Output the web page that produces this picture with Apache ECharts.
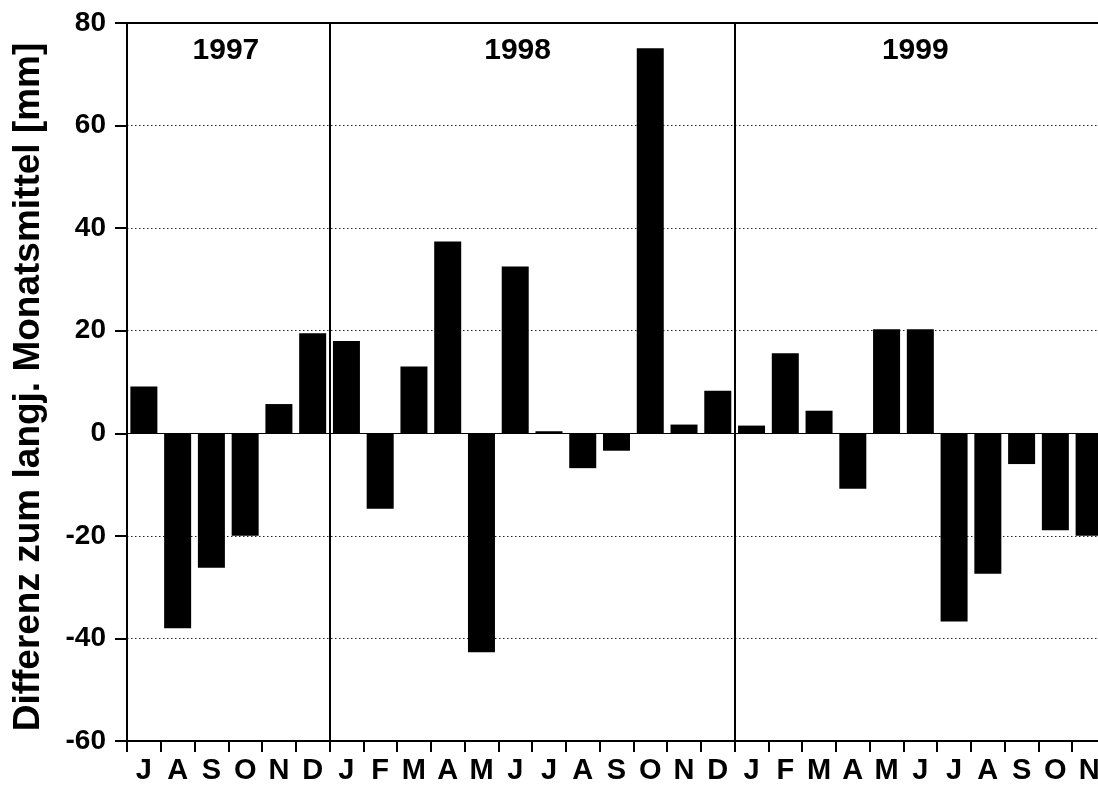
<!DOCTYPE html>
<html>
<head>
<meta charset="utf-8">
<title>Differenz zum langj. Monatsmittel</title>
<script src="https://cdn.jsdelivr.net/npm/echarts@6/dist/echarts.min.js"></script>
<style>
  html, body { margin: 0; padding: 0; background: #fff; overflow: hidden; }
  #chart { width: 1098px; height: 785px; }
</style>
</head>
<body>
<div id="chart"></div>
<script>
// Monthly precipitation departure from the long-term monthly mean, Jul 1997 – Nov 1999
const months = ['J','A','S','O','N','D',
                'J','F','M','A','M','J','J','A','S','O','N','D',
                'J','F','M','A','M','J','J','A','S','O','N'];
const values = [9.1, -38.0, -26.2, -20.0, 5.7, 19.5,
                18.0, -14.7, 13.0, 37.4, -42.7, 32.5, 0.4, -6.8, -3.4, 75.1, 1.7, 8.3,
                1.5, 15.6, 4.4, -10.8, 20.3, 20.3, -36.7, -27.4, -6.0, -18.9, -20.0];
// category index where each year begins
const yearStarts = [0, 6, 18];
const yearNames = ['1997', '1998', '1999'];
// horizontal placement of each year caption, in category units from the left edge
const yearCaptionPos = [2.93, 11.57, 23.35];
const yTicks = { min: -60, max: 80, step: 20 };
const yTitle = 'Differenz zum langj. Monatsmittel [mm]';

const FONT = '"Liberation Sans", Arial, Helvetica, sans-serif';
const chart = echarts.init(document.getElementById('chart'), null, { renderer: 'canvas' });

// the plot runs slightly past the right edge, so the last month is cut off
const option = {
  backgroundColor: '#ffffff',
  animation: false,
  grid: { left: 127, width: 979, top: 23, height: 718, containLabel: false, outerBoundsMode: 'none' },
  xAxis: [{
    type: 'category',
    data: months,
    position: 'bottom',
    boundaryGap: true,
    axisLine: { show: true, onZero: false, lineStyle: { color: '#000', width: 2 } },
    axisTick: { show: true, alignWithLabel: false, interval: 0, length: 11, lineStyle: { color: '#000', width: 2 } },
    axisLabel: { interval: 0, color: '#000', fontFamily: FONT, fontWeight: 'bold', fontSize: 29, margin: 15 },
    splitLine: {
      show: true,
      interval: function (index) { return yearStarts.indexOf(index) > 0; },
      lineStyle: { color: '#000', width: 2, type: 'solid' }
    }
  }, {
    type: 'category',
    data: months,
    position: 'top',
    axisLine: { show: true, onZero: false, lineStyle: { color: '#000', width: 2 } },
    axisTick: { show: false },
    axisLabel: { show: false },
    splitLine: { show: false }
  }],
  yAxis: {
    type: 'value',
    min: yTicks.min,
    max: yTicks.max,
    interval: yTicks.step,
    name: yTitle,
    nameLocation: 'middle',
    nameRotate: 90,
    nameGap: 80,
    nameTextStyle: { color: '#000', fontFamily: FONT, fontWeight: 'bold', fontSize: 37, padding: [0, 10, 0, 0] },
    axisLine: { show: true, onZero: false, lineStyle: { color: '#000', width: 2 } },
    axisTick: { show: true, length: 12, lineStyle: { color: '#000', width: 2 } },
    axisLabel: { color: '#000', fontFamily: FONT, fontWeight: 'bold', fontSize: 28, margin: 21 },
    splitLine: { show: true, lineStyle: { color: '#222', width: 1, type: [1.5, 2.5] } }
  },
  series: [{
    type: 'bar',
    data: values,
    barWidth: 27,
    itemStyle: { color: '#000' },
    silent: true,
    markLine: {
      silent: true,
      symbol: 'none',
      label: { show: false },
      lineStyle: { color: '#000', width: 1.2, type: 'solid' },
      data: [{ yAxis: 0 }]
    }
  }]
};
chart.setOption(option);

// Year captions across the top of each year's block
function placeYearCaptions() {
  const x0 = chart.convertToPixel({ xAxisIndex: 0 }, 0);
  const x1 = chart.convertToPixel({ xAxisIndex: 0 }, 1);
  const step = x1 - x0;
  const left = x0 - step / 2;
  const yTop = chart.convertToPixel({ yAxisIndex: 0 }, yTicks.max);
  chart.setOption({
    graphic: yearNames.map(function (name, i) {
      return {
        type: 'text',
        x: left + yearCaptionPos[i] * step,
        y: yTop + 28,
        style: {
          text: name,
          fill: '#000',
          font: 'bold 30px ' + FONT,
          textAlign: 'center',
          textVerticalAlign: 'middle'
        }
      };
    })
  });
}
placeYearCaptions();
</script>
</body>
</html>
